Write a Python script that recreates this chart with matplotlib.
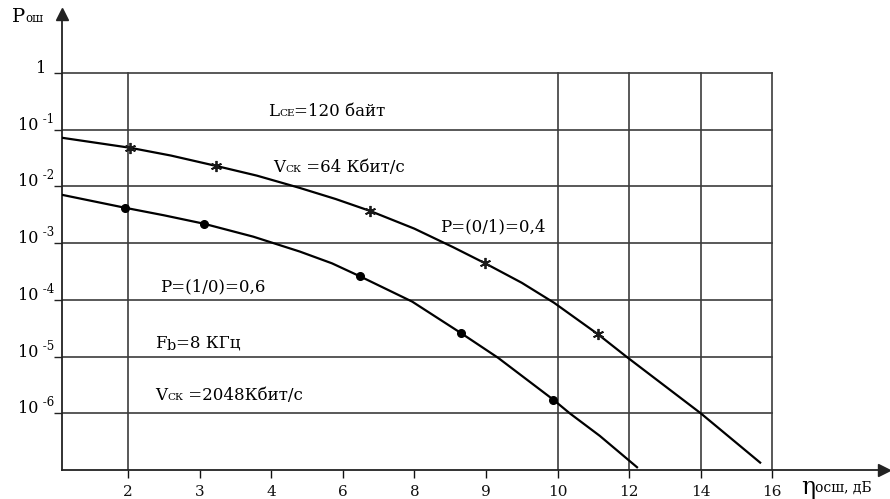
import matplotlib
matplotlib.use("Agg")
import matplotlib.pyplot as plt
from matplotlib.transforms import IdentityTransform

# ---------------- data ----------------
x_tick_labels = ['2', '3', '4', '6', '8', '9', '10', '12', '14', '16']
x_tick_pos = [0, 1, 2, 3, 4, 5, 6, 7, 8, 9]          # axis drawn with equal spacing between labels
x_grid_labels = ['2', '10', '12', '14', '16']         # vertical grid lines
y_decades = [1, 1e-1, 1e-2, 1e-3, 1e-4, 1e-5, 1e-6]
y_tick_labels = ['1', '10', '10', '10', '10', '10', '10']
y_tick_sups = ['', '-1', '-2', '-3', '-4', '-5', '-6']

# upper curve: V=64 kbit/s (position along the axis, P_err)
curve64_x = [-0.92, 0.03, 0.60, 1.23, 1.80, 2.40, 2.90, 3.38, 4.00, 4.54, 4.99,
             5.50, 5.95, 6.56, 6.96, 8.00, 8.83]
curve64_y = [7.2e-2, 4.8e-2, 3.5e-2, 2.3e-2, 1.55e-2, 9.4e-3, 6.0e-3, 3.7e-3, 1.8e-3,
             8.5e-4, 4.4e-4, 2.0e-4, 8.9e-5, 2.5e-5, 1.0e-5, 1.0e-6, 1.35e-7]
stars_x = [0.03, 1.23, 3.38, 4.99, 6.56]
stars_y = [4.8e-2, 2.3e-2, 3.7e-3, 4.4e-4, 2.5e-5]

# lower curve: V=2048 kbit/s
curve2048_x = [-0.92, -0.04, 0.50, 1.06, 1.75, 2.40, 2.85, 3.24, 3.97, 4.65, 5.17,
               5.94, 6.17, 6.59, 7.11]
curve2048_y = [7.1e-3, 4.2e-3, 3.1e-3, 2.2e-3, 1.3e-3, 7.1e-4, 4.4e-4, 2.6e-4, 9.3e-5,
               2.6e-5, 9.5e-6, 1.74e-6, 1.0e-6, 4.0e-7, 1.12e-7]
dots_x = [-0.04, 1.06, 3.24, 4.65, 5.94]
dots_y = [4.2e-3, 2.2e-3, 2.6e-4, 2.6e-5, 1.74e-6]

# ---------------- figure ----------------
W, H = 890, 499
SERIF = ['DejaVu Serif', 'Liberation Serif']
plt.rcParams['font.family'] = SERIF

fig = plt.figure(figsize=(W / 100, H / 100), dpi=100)
ax = fig.add_axes([62 / W, 1 - 470 / H, (884 - 62) / W, (470 - 14) / H])
ax.set_yscale('log')
ax.set_xlim(-0.922, 10.56)
ax.set_ylim(1e-7, 10 ** 1.04)

grid_col = '#3c3c3c'
xmin_grid = -0.922
xmax_grid = x_tick_pos[x_tick_labels.index('16')]
for yv in y_decades:
    ax.plot([xmin_grid, xmax_grid], [yv, yv], color=grid_col, lw=1.2, zorder=1)
for lab in x_grid_labels:
    xp = x_tick_pos[x_tick_labels.index(lab)]
    ax.plot([xp, xp], [1e-7, 1], color=grid_col, lw=1.2, zorder=1)

# curves
ax.plot(curve64_x, curve64_y, color='black', lw=1.6, zorder=3, solid_joinstyle='round')
ax.plot(curve2048_x, curve2048_y, color='black', lw=1.6, zorder=3, solid_joinstyle='round')
ax.plot(stars_x, stars_y, linestyle='none', marker=(6, 2, 0), ms=8, mew=1.3,
        color='#1a1a1a', zorder=4)
ax.plot(dots_x, dots_y, linestyle='none', marker='o', ms=5.5, color='black', zorder=4)

# spines
for s in ['top', 'right']:
    ax.spines[s].set_visible(False)
for s in ['left', 'bottom']:
    ax.spines[s].set_color('#222222')
    ax.spines[s].set_linewidth(1.3)

# arrows
ax.plot(1, 0, marker='>', ms=8, color='#222222', transform=ax.transAxes, clip_on=False)
ax.plot(0, 1, marker='^', ms=8, color='#222222', transform=ax.transAxes, clip_on=False)

# ticks
ax.set_xticks(x_tick_pos)
ax.set_xticklabels(x_tick_labels, fontsize=11)
ax.tick_params(axis='x', direction='out', length=6, width=1.0, pad=5, colors='#111111')
ax.set_yticks(y_decades)
ax.set_yticklabels([])
ax.yaxis.set_minor_locator(matplotlib.ticker.NullLocator())
ax.tick_params(axis='y', direction='out', length=6, width=1.0, colors='#222222')

ident = IdentityTransform()


def rich(x_px, base_px, parts, color='#000000'):
    """draw consecutive text parts; parts = (text, fontsize, rise_px)"""
    renderer = fig.canvas.get_renderer()
    cx = x_px
    for s, size, rise in parts:
        t = fig.text(cx, H - base_px + rise, s, fontsize=size, va='baseline', ha='left',
                     transform=ident, color=color, family=SERIF)
        bb = t.get_window_extent(renderer)
        cx += bb.width
    return cx


def rich_right(x_right_px, base_px, parts, color='#000000'):
    renderer = fig.canvas.get_renderer()
    total = 0
    tmp = []
    for s, size, rise in parts:
        t = fig.text(0, 0, s, fontsize=size, transform=ident, family=SERIF)
        total += t.get_window_extent(renderer).width
        tmp.append(t)
    for t in tmp:
        t.remove()
    rich(x_right_px - total, base_px, parts, color)


fig.canvas.draw()

# y tick labels
for yv, lab, sup in zip(y_decades, y_tick_labels, y_tick_sups):
    ypx = ax.transData.transform((0, yv))[1]
    base = H - ypx
    if sup:
        rich_right(54, base, [(lab, 11.5, 0), (' ' + sup, 8.5, 7)])
    else:
        rich_right(46, base, [(lab, 11.5, 0)])

# axis titles
rich(12, 22, [('P', 14, 0), ('ош', 8.5, 0)])
rich(801, 494, [('η', 17, 0), ('осш, дБ', 10, 2)])

# annotations
rich(268, 116, [('L', 12, 0), ('СЕ', 7.5, 0), ('=120 байт', 12, 0)])
rich(273, 172, [('V', 12, 0), ('СК', 7.5, 0), (' =64 Кбит/с', 12, 0)])
rich(440, 231, [('P=(0/1)=0,4', 12, 0)])
rich(160, 291, [('P=(1/0)=0,6', 12, 0)])
rich(155, 348, [('F', 12, 0), ('b', 10.5, -2), ('=8 КГц', 12, 0)])
rich(155, 400, [('V', 12, 0), ('СК', 7.5, 0), (' =2048Кбит/с', 12, 0)])

fig.savefig('out.png', dpi=100)
